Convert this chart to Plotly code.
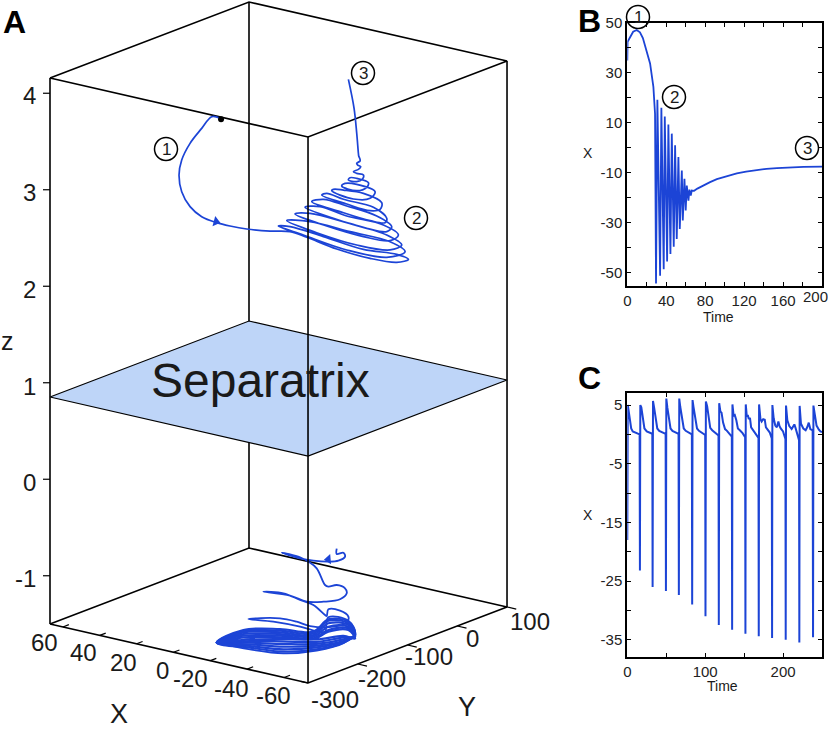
import plotly.graph_objects as go

upper_x = [9.29,12.12,15.51,19.47,22.30,23.21,22.30,19.47,15.51,10.42,5.90,0.24,-7.68,-14.47,
 -20.13,-30.31,-41.63,-50.68,-54.64,
 -50.68,-39.37,-25.79,-14.47,-10.51,
 -18.98,-33.71,-47.29,-53.51,
 -48.42,-34.84,-21.26,-13.34,
 -23.52,-37.10,-48.42,-52.38,
 -47.29,-33.71,-21.26,-16.17,
 -26.92,-39.37,-48.42,-51.25,
 -46.15,-33.71,-24.66,-19.56,
 -29.18,-40.50,-47.29,-48.98,
 -43.89,-33.71,-25.79,-21.83,
 -31.44,-41.63,-46.72,-47.29,
 -42.76,-32.58,-26.92,-25.22,
 -33.71,-41.63,-45.02,-45.59,
 -39.37,-32.58,-29.18,-28.61,
 -35.97,-41.63,-43.33,
 -37.10,-33.14,-32.01,
 -37.10,-40.50,-41.06,
 -37.10,-34.84,-34.27,
 -37.10,-39.03,-39.37,
 -37.10,-35.97,-37.67,-38.46,-37.44,-37.10,-38.23,-38.23,-37.78,-37.67,-37.10,-36.20,-34.27]
upper_z = [3.740,3.757,3.636,3.481,3.308,3.153,2.980,2.825,2.721,2.659,2.624,2.593,2.572,2.566,
 2.507,2.386,2.289,2.248,2.279,
 2.331,2.382,2.514,2.617,2.624,
 2.531,2.376,2.300,2.358,
 2.462,2.566,2.669,2.680,
 2.555,2.427,2.376,2.427,
 2.531,2.659,2.756,2.749,
 2.624,2.514,2.472,2.531,
 2.635,2.728,2.825,2.818,
 2.704,2.600,2.566,2.617,
 2.728,2.832,2.901,2.876,
 2.773,2.680,2.659,2.704,
 2.818,2.901,2.963,2.945,
 2.852,2.783,2.797,2.866,
 2.963,2.997,3.004,2.990,
 2.904,2.911,2.980,
 3.056,3.066,3.039,
 2.990,3.025,3.073,
 3.118,3.125,3.101,
 3.084,3.111,3.153,
 3.170,3.187,3.211,3.239,3.256,3.274,3.298,3.315,3.350,3.377,3.584,3.844,4.144]

lower_x = [-30.31,-30.31,-32.57,-33.14,-30.88,-27.48,-22.39,-17.87,-11.64,-17.87,-20.69,-23.52,-26.35,
 -27.48,-30.31,-33.14,-33.70,-31.44,-25.79,-20.13,-14.47,-5.42,-12.21,-17.87,-22.39,-26.35,-26.92,
 -27.48,-31.44,-34.27,-33.70,-29.18,-21.26,-16.73,-11.08,-0.33,-8.81,-17.87,-24.09,-26.35,-27.48,
 -34.27,-36.53,-32.57,-23.52,-12.21,-0.89,10.42]
lower_z = [-0.719,-0.775,-0.761,-0.802,-0.844,-0.854,-0.844,-0.820,-0.761,-0.809,-0.854,-0.923,-1.096,
 -1.113,-1.096,-1.130,-1.182,-1.244,-1.269,-1.269,-1.206,-1.165,-1.182,-1.251,-1.303,-1.407,-1.417,
 -1.348,-1.362,-1.424,-1.486,-1.528,-1.521,-1.476,-1.441,-1.448,-1.476,-1.528,-1.579,-1.579,-1.431,
 -1.466,-1.597,-1.700,-1.776,-1.804,-1.763,-1.693]

cycle_x = [10.42,1.37,-11.08,-22.39,-27.48,-34.27,-36.53,-32.57,-23.52,-12.21,-0.89,10.42]
cycle_z_1 = [-1.693,-1.562,-1.552,-1.579,-1.452,-1.476,-1.604,-1.694,-1.763,-1.787,-1.745,-1.693]
cycle_z_2 = [-1.693,-1.573,-1.569,-1.597,-1.466,-1.493,-1.614,-1.683,-1.742,-1.763,-1.728,-1.693]
cycle_z_3 = [-1.693,-1.586,-1.586,-1.614,-1.493,-1.510,-1.624,-1.676,-1.725,-1.735,-1.711,-1.693]
cycle_z_4 = [-1.693,-1.604,-1.604,-1.631,-1.528,-1.528,-1.614,-1.659,-1.707,-1.707,-1.694,-1.693]
cycle_z_5 = [-1.693,-1.621,-1.621,-1.649,-1.562,-1.545,-1.631,-1.638,-1.686,-1.680,-1.676,-1.693]
cycle_z_6 = [-1.693,-1.638,-1.638,-1.659,-1.579,-1.562,-1.650,-1.624,-1.660,-1.655,-1.660,-1.693]

dot_x, dot_z = [8.95], [3.730]
arrow_up_x, arrow_up_z = [10.65], [2.669]
arrow_lo_x, arrow_lo_z = [-27.48], [-0.830]

# ---------- panel B data ----------
b_time = [0,0,0.3,3,6,9.6,13,16,18.2,21,23.4,25.5,26.8,28.5,29.5,30.9,33.7,35,37.4,38.5,40.9,42.2,44.3,45.7,
 47.7,49.1,50.8,52.5,53.9,56,57,58.7,60,61.1,62.8,63.8,65.2,66.2,68.6,72,76,80,85,92,100,112.5,122,133,143,153.7,167,181,200]
b_x = [35,41.7,42.5,44.4,46.5,47.2,46.3,44,41.2,37.5,33.8,28,24.4,13.7,-54.3,19.3,-51.2,16.1,-48.6,12.6,-45.5,9.4,-42.5,5.7,
 -39.6,1,-36.5,-3.7,-32.5,-9.1,-29.1,-12.4,-25.1,-15.1,-21.1,-16.7,-19.1,-17.1,-17.2,-16.3,-15.4,-14.6,-13.7,-12.5,-11.5,-10.2,-9.5,-8.9,-8.4,-8.1,-7.8,-7.6,-7.5]

# ---------- panel C data ----------
c_time = [0,0.2,0.6,1.5,3,5,7,11,15.8,
 16.2,16.7,18,20,22,25,30,32.1,
 32.5,33,34.5,36.5,38.5,41,46,49.2,
 49.6,50.1,51.5,53.5,55.5,58,63,65.8,
 66.2,66.7,68,70.5,72.5,75,80,82.9,
 83.3,83.8,85,87.5,89.5,92,97,100,
 100.4,100.9,102.5,104.5,106.5,109,114,117.1,
 117.5,118,119.5,121,123,125.5,128,131,134.2,
 134.6,135,136.5,138,140,142,144.5,148,151.3,
 151.7,152.1,153.5,154.7,156,157.5,159,161,165,168.4,
 168.8,169.2,171,172.5,174.5,176.5,178,180,183,185.5,
 185.9,186.3,188,190,192,194,195.5,197,200,203,
 203.4,203.8,205.5,208,211,214.5,216,217.5,220.5,
 220.9,221.3,223,226,229,231,233,235,238,
 238.5,239,241,243,246,248,250]
c_x = [-18,0,5,4.2,2.5,1,0.5,0.3,0,
 -23.2,5,4.6,3,1,0.5,0.2,0.1,
 -26,5.7,4.5,2.5,1,0.6,0.3,0.1,
 -26.7,6.1,4.5,2.5,1,0.6,0.2,0.1,
 -27.4,6.1,4.7,2.2,1,0.6,0.2,0,
 -29,5.85,4.7,2.4,1,0.6,0.2,-0.1,
 -31,5.6,4.8,2.6,1.1,0.7,0.2,-0.2,
 -32.5,5.3,3.9,3.7,2,0.9,0.6,0.2,-0.4,
 -33.3,5.1,3.2,3.3,2.4,1,0.7,0.2,-0.5,
 -34,5.1,3,3.3,2.6,2.8,1.2,0.8,0.2,-0.6,
 -34.4,5.1,2.6,2.2,2.6,2.5,1.2,0.9,0.3,-0.7,
 -34.7,5,2.7,1.5,1.2,2.2,1.4,1,0.5,-0.8,
 -35,4.9,2.4,1.4,0.9,1.7,1.1,0.5,-1,
 -35.5,4.85,1.8,1,0.7,1.2,2,0.9,0.7,
 -34.6,4.9,2.8,1.5,0.8,0.5,0.4]

# ---------- axis tick labels ----------
x3d_ticks = [60,40,20,0,-20,-40,-60]
y3d_ticks = [-300,-200,-100,0,100]
z3d_ticks = [4,3,2,1,0,-1]
b_xticks = list(range(0,201,20)); b_yticks = list(range(-50,51,10))
c_xticks = [0,50,100,150,200,250]; c_yticks = [5,0,-5,-10,-15,-20,-25,-30,-35]

BLUE = "#1c44d6"; FONT = "Liberation Sans"
X_HI, X_LO, Y_LO, Y_HI, Z_LO, Z_HI = 67, -73, -300, 100, -1.5, 4.158

def proj(X, Y, Z):
    return (50 + (X_HI - X) * 1.843 + (Y - Y_LO) * 0.4975,
            624 + (X_HI - X) * 0.4214 - (Y - Y_LO) * 0.19 - (Z - Z_LO) * 96.5)

def plane_xy(xs, zs):
    out = [proj(x, Y_LO + 2.218 * (X_HI - x), z) for x, z in zip(xs, zs)]
    return [p[0] for p in out], [p[1] for p in out]

fig = go.Figure()

def seg(p_list, width=1.6, color="black", **kw):
    pts = [proj(*p) for p in p_list]
    fig.add_trace(go.Scatter(x=[p[0] for p in pts], y=[p[1] for p in pts], mode="lines",
        line=dict(color=color, width=width), xaxis="x3", yaxis="y3", showlegend=False, hoverinfo="skip", **kw))

# back / side edges of the box
for a, b in [(X_HI, Y_LO), (X_HI, Y_HI), (X_LO, Y_HI)]:
    seg([(a, b, Z_LO), (a, b, Z_HI)])
seg([(X_HI,Y_LO,Z_HI),(X_LO,Y_LO,Z_HI),(X_LO,Y_HI,Z_HI),(X_HI,Y_HI,Z_HI),(X_HI,Y_LO,Z_HI)])
seg([(X_HI,Y_LO,Z_LO),(X_LO,Y_LO,Z_LO),(X_LO,Y_HI,Z_LO),(X_HI,Y_HI,Z_LO),(X_HI,Y_LO,Z_LO)])
# separatrix plane
SEP = 0.852
seg([(X_HI,Y_LO,SEP),(X_LO,Y_LO,SEP),(X_LO,Y_HI,SEP),(X_HI,Y_HI,SEP),(X_HI,Y_LO,SEP)], width=1.2,
    fill="toself", fillcolor="#bed5f8")
# ticks
for v in x3d_ticks:
    seg([(v, Y_LO, Z_LO), (v, Y_LO + 12, Z_LO)], width=1.2)
for v in y3d_ticks:
    seg([(X_LO, v, Z_LO), (X_LO - 5, v, Z_LO)] if v > -300 else [(X_LO, v, Z_LO), (X_LO + 4, v, Z_LO)], width=1.2)
for v in z3d_ticks:
    px, py = proj(X_HI, Y_LO, v)
    fig.add_trace(go.Scatter(x=[px - 7, px], y=[py, py], mode="lines", line=dict(color="black", width=1.2),
                             xaxis="x3", yaxis="y3", showlegend=False, hoverinfo="skip"))

def orbit(xs, zs, width=2):
    px, py = plane_xy(xs, zs)
    fig.add_trace(go.Scatter(x=px, y=py, mode="lines", line=dict(color=BLUE, width=width, shape="spline", smoothing=1.0),
                             xaxis="x3", yaxis="y3", showlegend=False, hoverinfo="skip"))

orbit(upper_x, upper_z, 1.7)
orbit(lower_x, lower_z, 1.8)
for zs in [cycle_z_1, cycle_z_2, cycle_z_3, cycle_z_4, cycle_z_5, cycle_z_6]:
    orbit(cycle_x, zs, 2.2)

def marker(xs, zs, symbol, size, color, angle=0):
    px, py = plane_xy(xs, zs)
    fig.add_trace(go.Scatter(x=px, y=py, mode="markers", marker=dict(symbol=symbol, size=size, color=color, angle=angle),
                             xaxis="x3", yaxis="y3", showlegend=False, hoverinfo="skip"))
marker(dot_x, dot_z, "circle", 6, "black")
marker(arrow_up_x, arrow_up_z, "triangle-right", 9, BLUE, 15)
marker(arrow_lo_x, arrow_lo_z, "triangle-left", 9, BLUE, -5)

# front edge, over the orbits and the plane
seg([(X_LO, Y_LO, Z_LO), (X_LO, Y_LO, Z_HI)])

# time series
fig.add_trace(go.Scatter(x=b_time, y=b_x, mode="lines", line=dict(color=BLUE, width=1.8), xaxis="x", yaxis="y",
                         showlegend=False, hoverinfo="skip"))
fig.add_trace(go.Scatter(x=c_time, y=c_x, mode="lines", line=dict(color=BLUE, width=2), xaxis="x2", yaxis="y2",
                         showlegend=False, hoverinfo="skip"))

W, H = 828, 735
def ax(domain, rng, vals, text, anchor, **kw):
    return dict(domain=domain, range=rng, tickmode="array", tickvals=vals, ticktext=text, ticks="inside", ticklen=4,
                tickwidth=1.3, tickcolor="black", showline=True, linecolor="black", linewidth=2, mirror="allticks",
                showgrid=False, zeroline=False, anchor=anchor, tickfont=dict(family=FONT, size=15, color="#222"), **kw)

xd = [627.3 / W, 822 / W]
b_xtext = ["0","","40","","80","","120","","160","",""]
b_ytext = [str(v) if (v + 50) % 20 == 0 else "" for v in b_yticks]
c_xtext = ["0","","100","","200",""]
c_ytext = [str(v) if (v - 5) % 10 == 0 else "" for v in c_yticks]

annotations = []
def label(x, y, text, size, bold=False, color="#1a1a1a", align="center"):
    annotations.append(dict(x=x, y=y, xref="x3", yref="y3", text=f"<b>{text}</b>" if bold else text, showarrow=False,
        font=dict(family=FONT, size=size, color=color), xanchor=align, yanchor="middle"))

shapes = []
def circled(x, y, text):
    shapes.append(dict(type="circle", xref="x3", yref="y3", x0=x - 11.5, x1=x + 11.5, y0=y - 11.5, y1=y + 11.5,
                       line=dict(color="black", width=1.5), layer="above"))
    label(x, y, text, 17)

for (x, y), t in zip([(44,642),(83,652),(123,662),(162,670),(190,678),(231,688),(273,695)], x3d_ticks):
    label(x, y, str(t), 24)
for (x, y), t in zip([(335,699),(382,678),(429,656),(472,638),(530,621)], y3d_ticks):
    label(x, y, str(t), 24)
for (x, y), t in zip([(38,95),(38,192),(38,289),(38,386),(38,482),(38,578)], z3d_ticks):
    label(x, y, str(t), 24, align="right")
label(119, 714, "X", 27); label(467, 707, "Y", 27); label(7, 341, "z", 25)
label(260, 380, "Separatrix", 48)
label(14, 22, "A", 32, bold=True, color="black"); label(589, 21, "B", 32, bold=True, color="black"); label(589, 378, "C", 32, bold=True, color="black")
for x, y, t in [(166,149,"1"),(416,218,"2"),(363,73,"3"),(638,17,"1"),(674,97,"2"),(807,148,"3")]:
    circled(x, y, t)
label(588, 153, "X", 14); label(718, 317, "Time", 14); label(588, 515, "X", 14); label(722, 686, "Time", 14)
label(815, 296, "200", 15, color="#222")

fig.update_layout(
    width=W, height=H, margin=dict(l=0, r=0, t=0, b=0, autoexpand=False), paper_bgcolor="white", plot_bgcolor="rgba(0,0,0,0)",
    autosize=False, showlegend=False, annotations=annotations, shapes=shapes,
    xaxis=ax(xd, [0, 200], b_xticks, b_xtext, "y"),
    yaxis=ax([1 - 286 / H, 1 - 23 / H], [-55.3, 50], b_yticks, b_ytext, "x"),
    xaxis2=ax(xd, [0, 250], c_xticks, c_xtext, "y2"),
    yaxis2=ax([1 - 656.7 / H, 1 - 392.7 / H], [-37.9, 7.1], c_yticks, c_ytext, "x2"),
    xaxis3=dict(domain=[0, 1], range=[0, W], visible=False, anchor="y3"),
    yaxis3=dict(domain=[0, 1], range=[H, 0], visible=False, anchor="x3"),
)
fig.write_html("out.html", config=dict(displayModeBar=False),
               post_script="document.body.style.margin='0';document.body.style.overflow='hidden';")
